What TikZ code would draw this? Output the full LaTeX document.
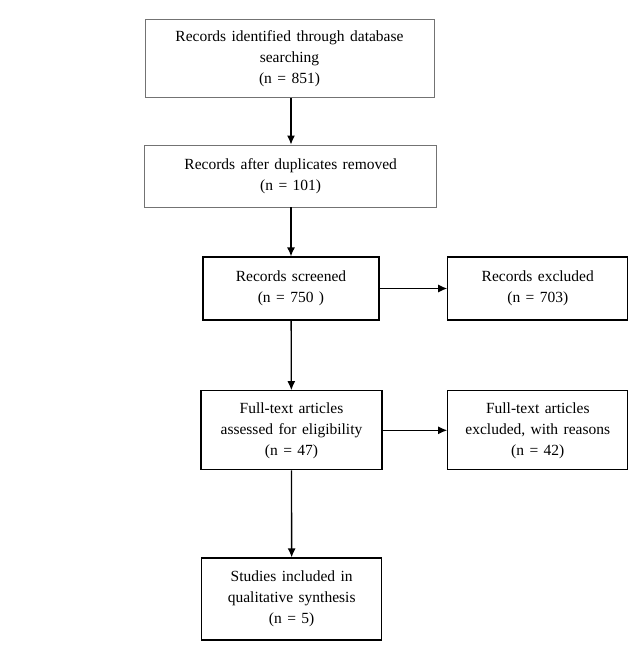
\documentclass[tikz,border=0pt]{standalone}
\usepackage{fontspec}
\setmainfont[WordSpace=1.4]{Liberation Serif}
\usetikzlibrary{arrows.meta,positioning}

\tikzset{
  stage/.style={draw=black!55,line width=0.9pt,align=center,
    font=\fontsize{15.5}{21}\selectfont,inner sep=0pt},
  result/.style={stage,draw=black,line width=1.2pt},
  flow/.style={-{Latex[length=9pt,width=8pt]},line width=1.3pt}
}

\begin{document}
\begin{tikzpicture}[x=1pt,y=-1pt]
  \useasboundingbox (0,0) rectangle (630,662);

  % main column
  \node [stage,minimum width=289pt,minimum height=78pt] (ident) at (289.5,58.5)
    {Records identified through database\\ searching\\ (n = 851)};
  \node [stage,minimum width=292pt,minimum height=62pt] (dupl) at (290.7,176)
    {Records after duplicates removed\\ (n = 101)};
  \node [result,minimum width=176pt,minimum height=63pt] (screen) at (291,288.5)
    {Records screened\\ (n = 750 )};
  \node [result,minimum width=181pt,minimum height=79pt] (full) at (291.5,430.3)
    {Full-text articles\\ assessed for eligibility\\ (n = 47)};
  \node [result,minimum width=180pt,minimum height=82pt] (incl) at (291.7,599)
    {Studies included in\\ qualitative synthesis\\ (n = 5)};

  % exclusions on the right
  \node [result,minimum width=180pt,minimum height=63pt] (excl) at (537.8,288.5)
    {Records excluded\\ (n = 703)};
  \node [result,minimum width=180pt,minimum height=79pt] (fullexcl) at (537.8,430.3)
    {Full-text articles\\ excluded, with reasons\\ (n = 42)};

  \draw [flow] (ident.south -| screen) -- (dupl.north -| screen);
  \draw [flow] (dupl.south -| screen) -- (screen.north);
  \draw [flow] (screen) -- (full);
  \draw [flow] (full) -- (incl);
  \draw [flow] (screen) -- (excl);
  \draw [flow] (full) -- (fullexcl);
\end{tikzpicture}
\end{document}
